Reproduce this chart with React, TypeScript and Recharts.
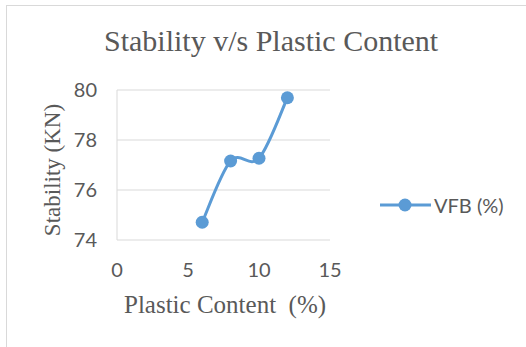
import React from "react";
import { LineChart, Line, XAxis, YAxis, CartesianGrid } from "recharts";

const plasticContent = [6, 8, 10, 12];
const vfbValues = [74.71, 77.16, 77.27, 79.69];
const xTicks = [0, 5, 10, 15];
const yTicks = [74, 76, 78, 80];

const seriesName = "VFB (%)";
const blue = "#5b9bd5";
const textGray = "#595959";
const gridGray = "#d9d9d9";
const sans = "Lato, 'Open Sans', sans-serif";
const serif = "'Liberation Serif', serif";

const data = plasticContent.map((x, i) => ({ x, vfb: vfbValues[i] }));

// Excel-like smoothed line (Catmull-Rom through every point)
const smoothCurve = (context: any) => {
  let pts: number[][] = [];
  return {
    areaStart() {},
    areaEnd() {},
    lineStart() {
      pts = [];
    },
    point(x: number, y: number) {
      pts.push([+x, +y]);
    },
    lineEnd() {
      const n = pts.length;
      if (!n) return;
      context.moveTo(pts[0][0], pts[0][1]);
      for (let i = 0; i < n - 1; i++) {
        const p0 = pts[Math.max(i - 1, 0)];
        const p1 = pts[i];
        const p2 = pts[i + 1];
        const p3 = pts[Math.min(i + 2, n - 1)];
        context.bezierCurveTo(
          p1[0] + (p2[0] - p0[0]) / 6,
          p1[1] + (p2[1] - p0[1]) / 6,
          p2[0] - (p3[0] - p1[0]) / 6,
          p2[1] - (p3[1] - p1[1]) / 6,
          p2[0],
          p2[1]
        );
      }
    },
  };
};

function LegendBox() {
  return (
    <div
      style={{
        position: "absolute",
        left: 380,
        top: 193,
        display: "flex",
        alignItems: "center",
        height: 24,
      }}
    >
      <svg width={51} height={16}>
        <line x1={0} y1={8} x2={51} y2={8} stroke={blue} strokeWidth={3} />
        <circle cx={25} cy={8} r={6.5} fill={blue} />
      </svg>
      <span style={{ marginLeft: 3, fontFamily: sans, fontSize: 20, color: textGray }}>
        {seriesName}
      </span>
    </div>
  );
}

export default function App() {
  const tickStyle = { fill: textGray, fontSize: 20, fontFamily: sans };
  return (
    <div
      style={{
        position: "absolute",
        left: 0,
        top: 0,
        width: 526,
        height: 347,
        background: "#fff",
        overflow: "hidden",
      }}
    >
      <div
        style={{
          position: "absolute",
          left: 6,
          top: 5,
          width: 540,
          height: 360,
          border: `1px solid ${gridGray}`,
          boxSizing: "border-box",
        }}
      />
      <div
        style={{
          position: "absolute",
          left: 104,
          top: 24,
          whiteSpace: "nowrap",
          fontFamily: serif,
          fontSize: 30,
          color: textGray,
          lineHeight: "34px",
        }}
      >
        Stability v/s Plastic Content
      </div>
      <div
        style={{
          position: "absolute",
          left: 53,
          top: 170,
          transform: "translate(-50%, -50%) rotate(-90deg)",
          whiteSpace: "nowrap",
          fontFamily: serif,
          fontSize: 23,
          color: textGray,
        }}
      >
        Stability (KN)
      </div>
      <div
        style={{
          position: "absolute",
          left: 124,
          top: 290,
          whiteSpace: "pre",
          fontFamily: serif,
          fontSize: 25,
          color: textGray,
          lineHeight: "30px",
        }}
      >
        {"Plastic Content  (%)"}
      </div>
      <div style={{ position: "absolute", left: 0, top: 0 }}>
        <LineChart
          width={526}
          height={347}
          data={data}
          margin={{ top: 90, right: 196, left: 0, bottom: 0 }}
        >
          <CartesianGrid vertical={false} stroke={gridGray} strokeWidth={1} />
          <XAxis
            type="number"
            dataKey="x"
            domain={[0, 15]}
            ticks={xTicks}
            axisLine={false}
            tickLine={false}
            tickMargin={17}
            height={107}
            tick={tickStyle}
            interval={0}
          />
          <YAxis
            type="number"
            domain={[74, 80]}
            ticks={yTicks}
            axisLine={{ stroke: gridGray }}
            tickLine={false}
            tickMargin={14}
            width={117}
            tick={tickStyle}
            interval={0}
          />
          <Line
            type={smoothCurve as any}
            dataKey="vfb"
            name={seriesName}
            stroke={blue}
            strokeWidth={3}
            dot={{ r: 6.5, fill: blue, stroke: blue, strokeWidth: 0 }}
            activeDot={false}
            isAnimationActive={false}
          />
        </LineChart>
      </div>
      <LegendBox />
    </div>
  );
}
